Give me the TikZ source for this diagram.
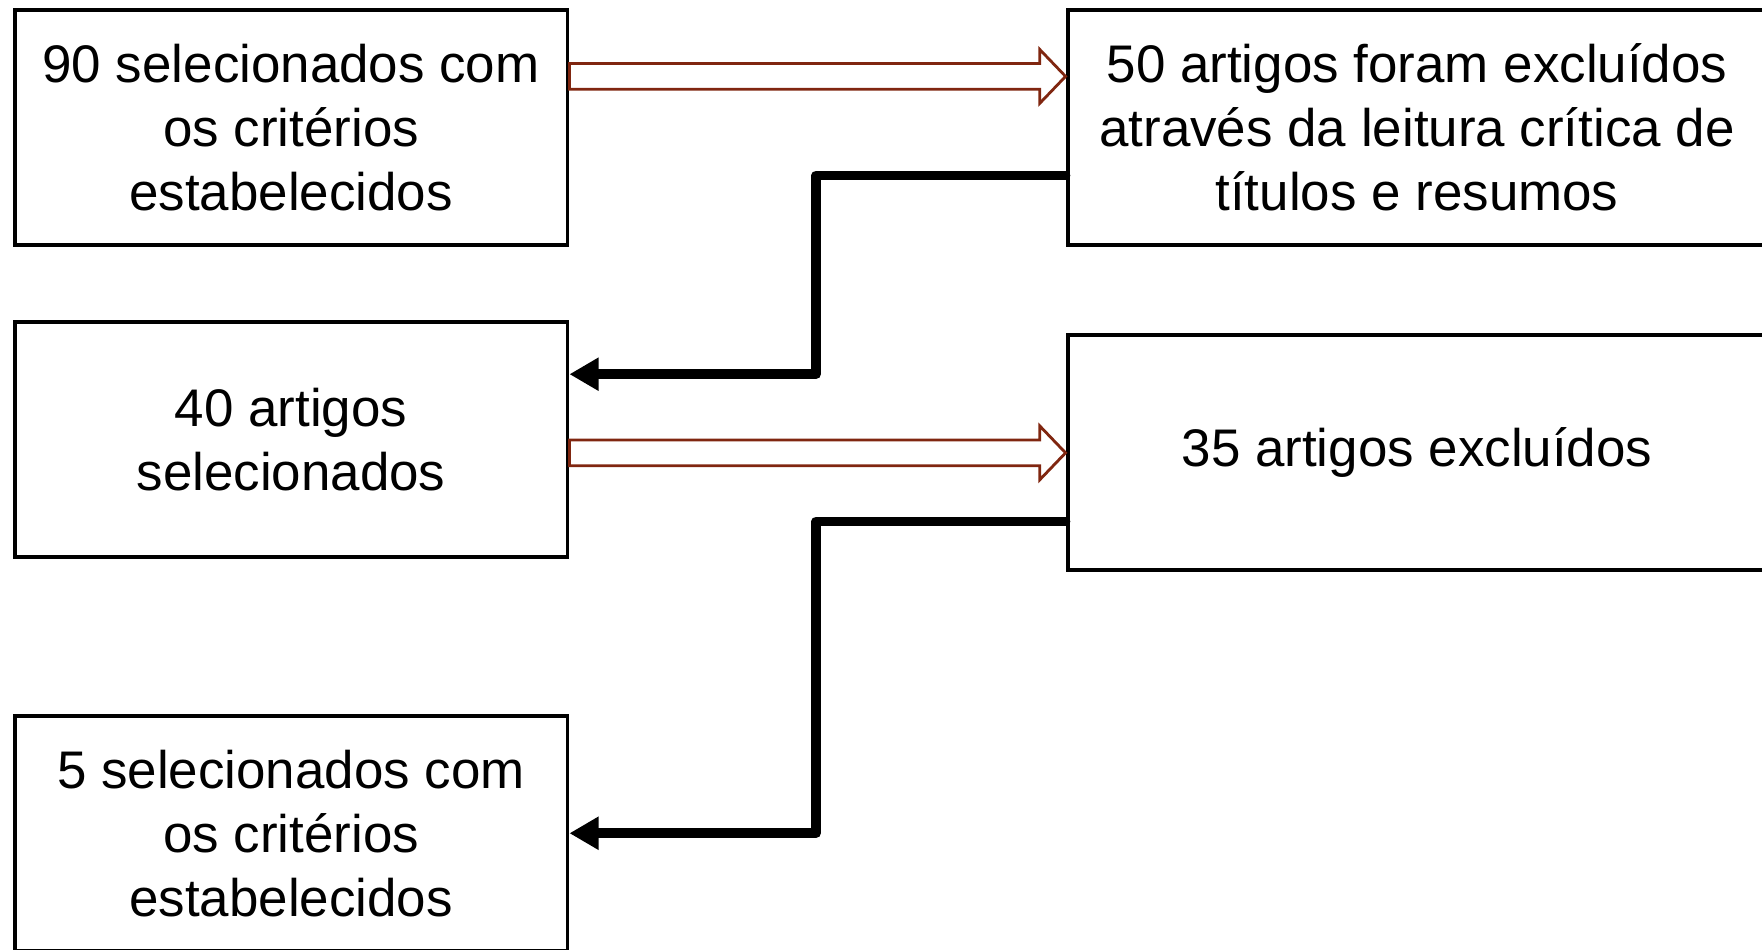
\documentclass[tikz,border=0pt]{standalone}
\usepackage{fontspec}
\setmainfont{Liberation Sans}
\usepackage{tikz}
\usetikzlibrary{positioning,arrows.meta,calc}

\definecolor{arrowbrown}{RGB}{128,38,16}

\newcommand{\fatarrow}[2]{%
  \draw[hollow] ($(#1)+(0,-11.5)$) -- ($(#2)+(-23,-11.5)$) -- ($(#2)+(-23,-24)$)
    -- (#2) -- ($(#2)+(-23,24)$) -- ($(#2)+(-23,11.5)$) -- ($(#1)+(0,11.5)$) -- cycle;}

\begin{document}
\begin{tikzpicture}[
    x=0.1mm, y=-0.1mm,
    box/.style={draw, line width=0.35mm, minimum width=49.2mm, minimum height=20.9mm,
      inner sep=0pt, align=center, font=\fontsize{13.4}{16.2}\selectfont},
    widebox/.style={box, minimum width=62.2mm},
    hollow/.style={draw=arrowbrown, line width=0.25mm, fill=white},
    conn/.style={-{Triangle[length=2.6mm,width=2.8mm]}, line width=0.85mm, line cap=round, line join=round}
]
\clip (0,0) rectangle (1568,845);

\node[box] (sel1) at (259,113.5) {90 selecionados com\\os critérios\\estabelecidos};
\node[box] (sel2) at (259,391) {40 artigos\\selecionados};
\node[box] (sel3) at (259,741.5) {5 selecionados com\\os critérios\\estabelecidos};

\node[widebox] (excl1) at (1261,113.5) {50 artigos foram excluídos\\através da leitura crítica de\\títulos e resumos};
\node[widebox] (excl2) at (1261,402.5) {35 artigos excluídos};

\coordinate (a1) at ([yshift=4.55mm]sel1.east);
\coordinate (b1) at ([yshift=4.55mm]excl1.west);
\coordinate (a2) at ([yshift=-1.2mm]sel2.east);
\coordinate (b2) at ([yshift=-0.05mm]excl2.west);
\fatarrow{a1}{b1}
\fatarrow{a2}{b2}

\draw[conn] ([yshift=-4.25mm]excl1.west) -- ++(-222,0) |- ([yshift=5.8mm]sel2.east);
\draw[conn] ([yshift=-6.15mm]excl2.west) -- ++(-222,0) |- (sel3.east);
\end{tikzpicture}
\end{document}
